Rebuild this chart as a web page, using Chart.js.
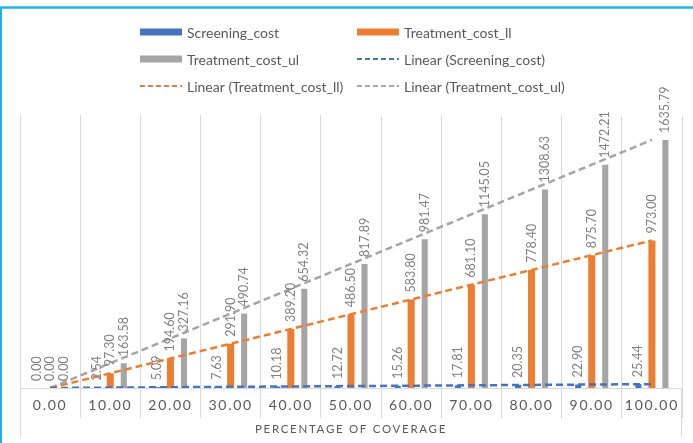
<!DOCTYPE html>
<html>
<head>
<meta charset="utf-8">
<script src="https://cdn.jsdelivr.net/npm/chart.js@4/dist/chart.umd.min.js"></script>
<style>
  html, body { margin: 0; padding: 0; background: #fff; overflow: hidden; }
  #wrap { width: 693px; height: 443px; position: relative; }
</style>
</head>
<body>
<div id="wrap"><canvas id="c" width="693" height="443"></canvas></div>
<script>
// Coverage levels (category axis)
const coverage = ['0.00', '10.00', '20.00', '30.00', '40.00', '50.00', '60.00', '70.00', '80.00', '90.00', '100.00'];

// Cost series
const screeningCost   = [0.00, 2.54, 5.09, 7.63, 10.18, 12.72, 15.26, 17.81, 20.35, 22.90, 25.44];
const treatmentCostLL = [0.00, 97.30, 194.60, 291.90, 389.20, 486.50, 583.80, 681.10, 778.40, 875.70, 973.00];
const treatmentCostUL = [0.00, 163.58, 327.16, 490.74, 654.32, 817.89, 981.47, 1145.05, 1308.63, 1472.21, 1635.79];

const seriesNames  = ['Screening_cost', 'Treatment_cost_ll', 'Treatment_cost_ul'];
const seriesValues = [screeningCost, treatmentCostLL, treatmentCostUL];
const seriesColors = ['#4472C4', '#ED7D31', '#A5A5A5'];
const barFill      = [0.45, 0.52, 0.45];

const FONT = 'Lato, "Open Sans", "Liberation Sans", sans-serif';
const TEXT = '#595959';

// Least-squares linear trend over category positions 1..n
function linearTrend(values) {
  const n = values.length;
  let sx = 0, sy = 0, sxy = 0, sxx = 0;
  values.forEach((v, i) => { const x = i + 1; sx += x; sy += v; sxy += x * v; sxx += x * x; });
  const b = (n * sxy - sx * sy) / (n * sxx - sx * sx);
  const a = (sy - b * sx) / n;
  return values.map((_, i) => a + b * (i + 1));
}

const barSets = seriesValues.map((vals, k) => ({
  type: 'bar',
  label: seriesNames[k],
  data: vals,
  backgroundColor: seriesColors[k],
  categoryPercentage: 0.673,
  barPercentage: barFill[k],
  order: 1
}));

const trendSets = seriesValues.map((vals, k) => ({
  type: 'line',
  label: 'Linear (' + seriesNames[k] + ')',
  data: linearTrend(vals),
  borderColor: seriesColors[k],
  borderWidth: 2.5,
  borderDash: [7, 4],
  pointRadius: 0,
  fill: false,
  tension: 0,
  order: 0,
  isTrend: true
}));

// Frame, letter spacing for axis text, value labels and the two-column legend
const decor = {
  id: 'decor',
  beforeDraw(chart) {
    const ctx = chart.ctx;
    ctx.save();
    ctx.fillStyle = '#fff';
    ctx.fillRect(0, 0, chart.width, chart.height);
    ctx.strokeStyle = '#1FB2E8';
    ctx.lineWidth = 2.5;
    ctx.beginPath();
    ctx.moveTo(0, 7.5); ctx.lineTo(chart.width, 7.5);
    ctx.stroke();
    ctx.lineWidth = 2;
    ctx.beginPath();
    ctx.moveTo(1, 7); ctx.lineTo(1, chart.height);
    ctx.stroke();
    ctx.restore();
    ctx.letterSpacing = '1.7px';
  },
  beforeDatasetsDraw(chart) {
    chart.ctx.letterSpacing = '0px';
  },
  afterDatasetsDraw(chart) {
    const ctx = chart.ctx;
    ctx.save();
    ctx.letterSpacing = '0px';
    ctx.font = '12.5px ' + FONT;
    ctx.fillStyle = '#808080';
    ctx.textAlign = 'left';
    ctx.textBaseline = 'middle';
    chart.data.datasets.forEach((ds, di) => {
      if (ds.isTrend) return;
      chart.getDatasetMeta(di).data.forEach((el, i) => {
        ctx.save();
        ctx.translate(el.x, el.y - 7);
        ctx.rotate(-Math.PI / 2);
        ctx.fillText(ds.data[i].toFixed(2), 0, 0);
        ctx.restore();
      });
    });
    ctx.restore();
  },
  afterDraw(chart) {
    const ctx = chart.ctx;
    const area = chart.chartArea;
    ctx.save();
    ctx.letterSpacing = '0px';
    // outer category frame lines reaching down to the axis title
    ctx.strokeStyle = '#D9D9D9';
    ctx.lineWidth = 1;
    ctx.beginPath();
    ctx.moveTo(Math.round(area.left) + 0.5, area.bottom);
    ctx.lineTo(Math.round(area.left) + 0.5, 437);
    ctx.moveTo(Math.round(area.right) - 0.5, area.bottom);
    ctx.lineTo(Math.round(area.right) - 0.5, 437);
    ctx.stroke();

    // legend
    const cols = [140, 357];
    const rows = [32, 59, 86];
    ctx.font = '14px ' + FONT;
    ctx.textAlign = 'left';
    ctx.textBaseline = 'middle';
    chart.data.datasets.forEach((ds, i) => {
      const x = cols[i % 2];
      const y = rows[Math.floor(i / 2)];
      if (ds.isTrend) {
        ctx.strokeStyle = ds.borderColor;
        ctx.lineWidth = 2;
        ctx.setLineDash([5, 3]);
        ctx.beginPath();
        ctx.moveTo(x, y); ctx.lineTo(x + 42, y);
        ctx.stroke();
        ctx.setLineDash([]);
      } else {
        ctx.fillStyle = ds.backgroundColor;
        ctx.fillRect(x, y - 3.5, 42, 7);
      }
      ctx.fillStyle = TEXT;
      ctx.fillText(ds.label, x + 47, y + 1);
    });
    ctx.restore();
  }
};

new Chart(document.getElementById('c'), {
  data: {
    labels: coverage,
    datasets: [...barSets, ...trendSets]
  },
  options: {
    responsive: false,
    animation: false,
    devicePixelRatio: 1,
    layout: { padding: { top: 115, left: 20, right: 11, bottom: 7 } },
    plugins: { legend: { display: false }, tooltip: { enabled: false } },
    scales: {
      x: {
        offset: true,
        grid: { color: '#D9D9D9', tickColor: '#D9D9D9', tickLength: 30, offset: true, lineWidth: 1 },
        border: { color: '#D9D9D9' },
        ticks: {
          color: TEXT,
          font: { family: FONT, size: 14 },
          padding: -21,
          maxRotation: 0,
          autoSkip: false
        },
        title: {
          display: true,
          text: 'PERCENTAGE OF COVERAGE',
          color: TEXT,
          font: { family: FONT, size: 11.5 },
          padding: 0
        },
        afterFit(scale) { scale.height = 48; }
      },
      y: { display: false, min: 0, max: 1800 }
    }
  },
  plugins: [decor]
});
</script>
</body>
</html>
